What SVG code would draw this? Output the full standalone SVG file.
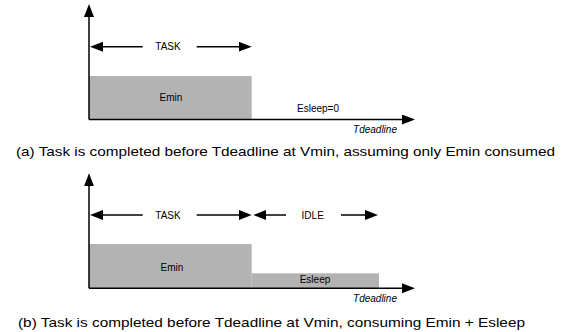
<svg xmlns="http://www.w3.org/2000/svg" width="573" height="332" viewBox="0 0 573 332">
<style>
text{font-family:"Liberation Sans",Arial,sans-serif;fill:#000}
.lbl{font-size:10px;text-anchor:middle}
.t{font-size:10px;font-style:italic;text-anchor:middle}
.cap{font-size:12.6px}
.ax{stroke:#000;stroke-width:1.5;fill:none}
.ar{stroke:#000;stroke-width:1.5;fill:none}
.bar{fill:#b3b3b3}
</style>
<defs>
<marker id="ah" markerUnits="userSpaceOnUse" markerWidth="14" markerHeight="11" refX="7" refY="5" orient="auto">
<path d="M0,0 L13,5 L0,10 z" fill="#000"/>
</marker>
</defs>
<g id="panelA">
<rect class="bar" x="89" y="76" width="162.7" height="43.5"/>
<g id="axesA">
<line class="ax" x1="89" y1="119.5" x2="89" y2="10" marker-end="url(#ah)"/>
<line class="ax" x1="89" y1="119.5" x2="409" y2="119.5" marker-end="url(#ah)"/>
</g>
<g id="arrowsA">
<line class="ar" x1="142.7" y1="46.7" x2="96" y2="46.7" marker-end="url(#ah)"/>
<line class="ar" x1="196.7" y1="46.7" x2="245.7" y2="46.7" marker-end="url(#ah)"/>
</g>
<text class="lbl" x="168" y="50.3">TASK</text>
<text class="lbl" x="171" y="100.5">Emin</text>
<text class="lbl" x="318" y="112.2">Esleep=0</text>
<text class="t" x="375" y="133.3">Tdeadline</text>
<text class="cap" x="16" y="155.5" textLength="539" lengthAdjust="spacingAndGlyphs">(a) Task is completed before Tdeadline at Vmin, assuming only Emin consumed</text>
</g>
<g id="panelB">
<rect class="bar" x="89" y="244" width="162.7" height="44.3"/>
<rect class="bar" x="251.7" y="273.3" width="127.3" height="15"/>
<g id="axesB">
<line class="ax" x1="89" y1="288.3" x2="89" y2="179.3" marker-end="url(#ah)"/>
<line class="ax" x1="89" y1="288.3" x2="409" y2="288.3" marker-end="url(#ah)"/>
</g>
<g id="arrowsB">
<line class="ar" x1="142.7" y1="215" x2="96" y2="215" marker-end="url(#ah)"/>
<line class="ar" x1="196.7" y1="215" x2="245.7" y2="215" marker-end="url(#ah)"/>
<line class="ar" x1="286" y1="215" x2="259.3" y2="215" marker-end="url(#ah)"/>
<line class="ar" x1="341" y1="215" x2="372" y2="215" marker-end="url(#ah)"/>
</g>
<text class="lbl" x="168" y="218.7">TASK</text>
<text class="lbl" x="312.7" y="218.7">IDLE</text>
<text class="lbl" x="172" y="270.5">Emin</text>
<text class="lbl" x="315" y="283.3">Esleep</text>
<text class="t" x="375" y="301.5">Tdeadline</text>
<text class="cap" x="18" y="326.5" textLength="507" lengthAdjust="spacingAndGlyphs">(b) Task is completed before Tdeadline at Vmin, consuming Emin + Esleep</text>
</g>
</svg>
